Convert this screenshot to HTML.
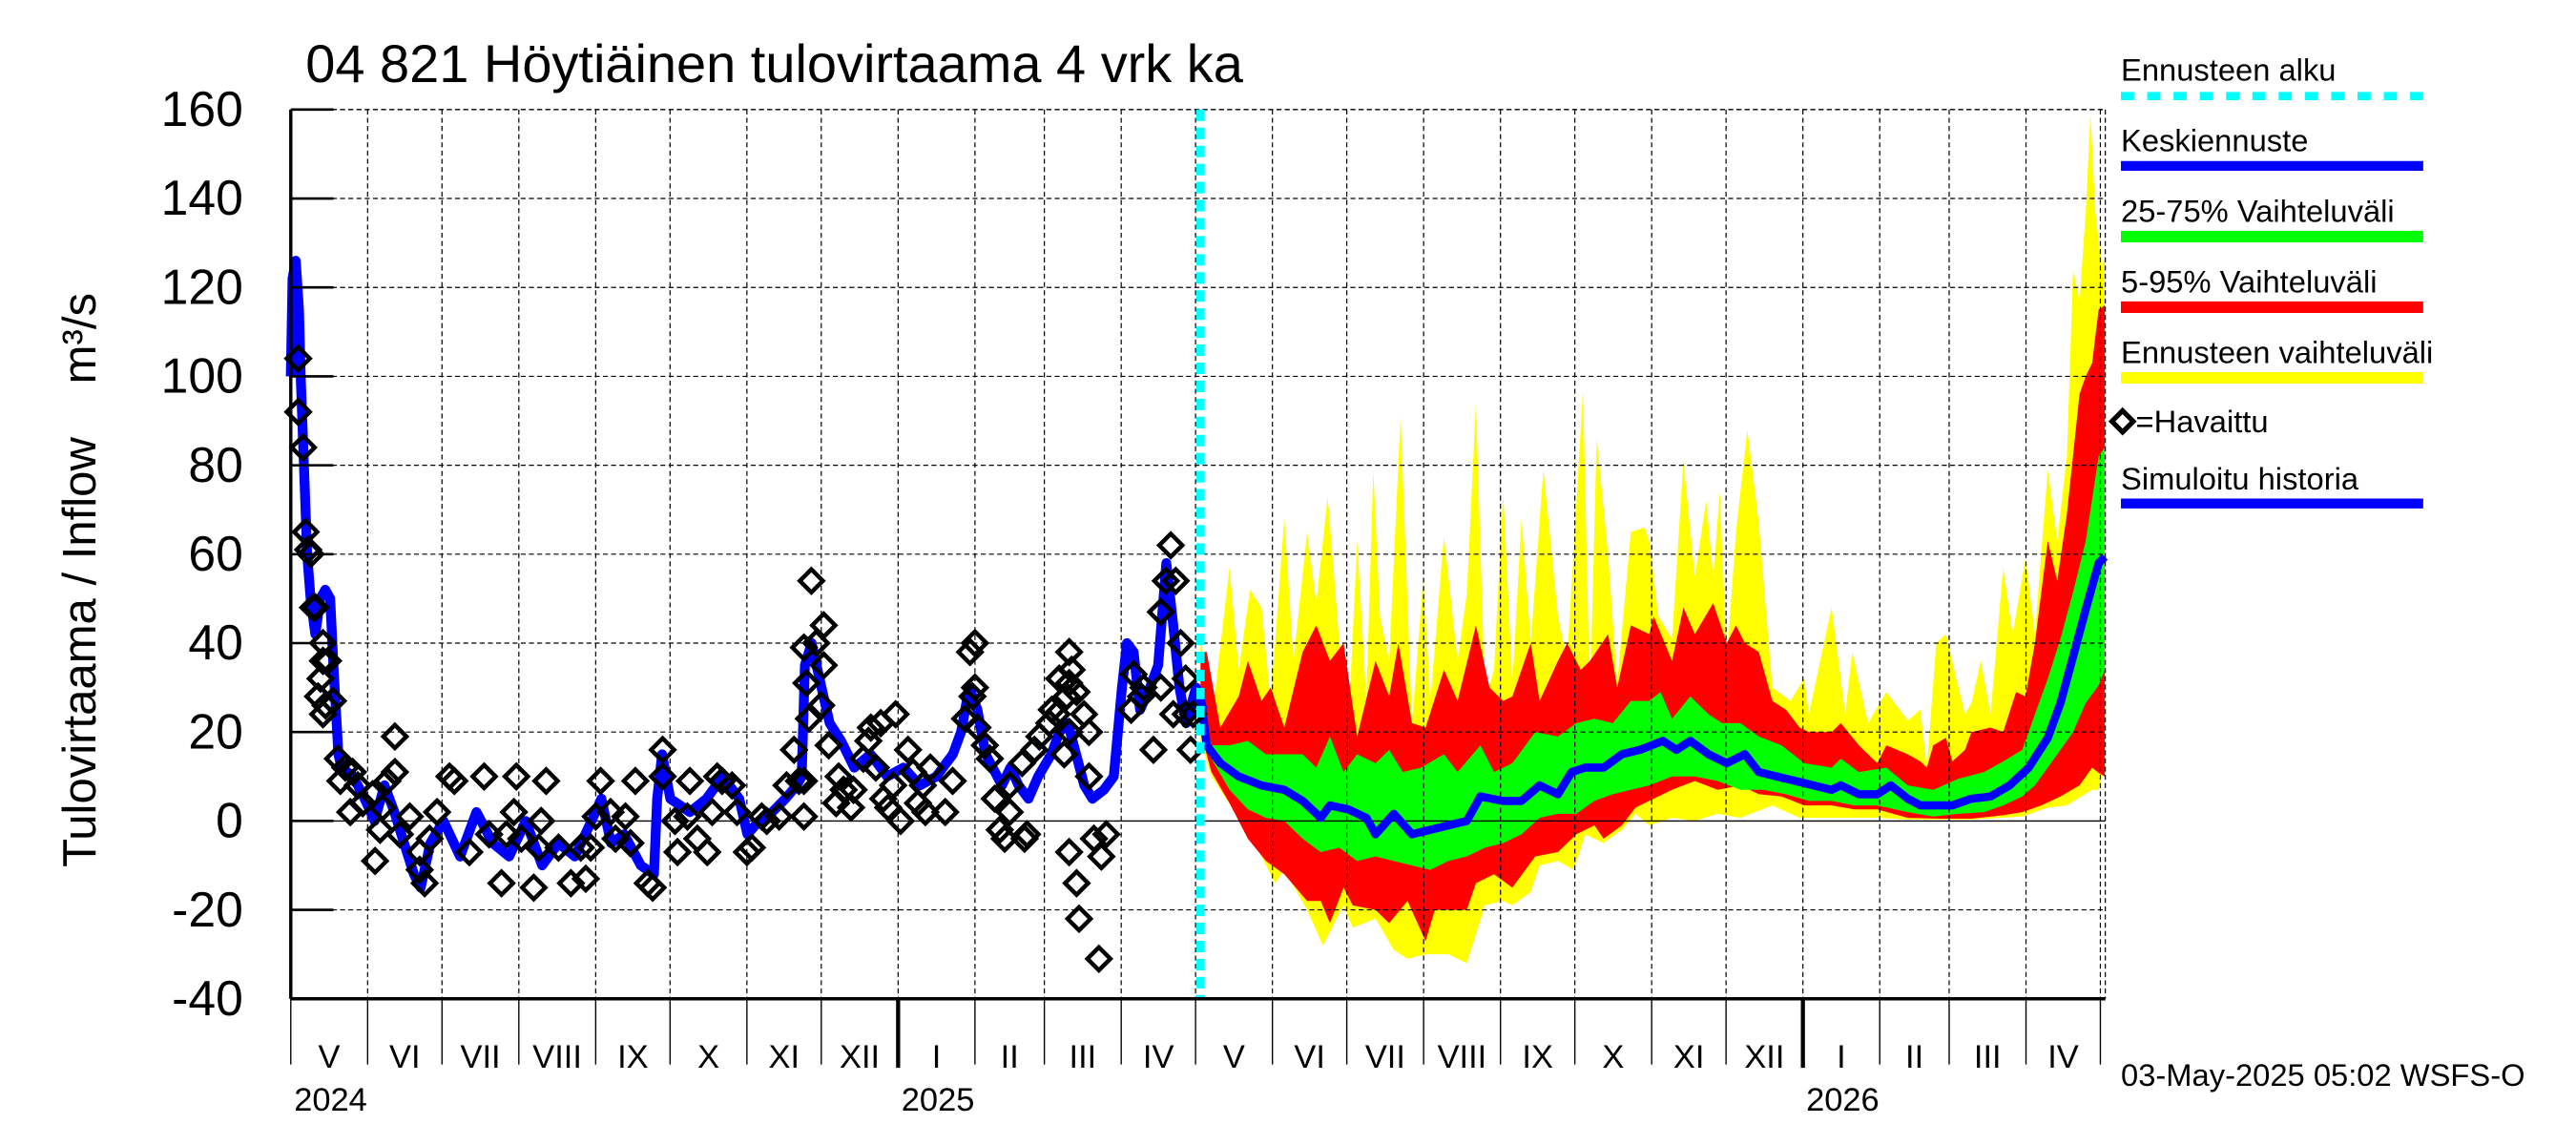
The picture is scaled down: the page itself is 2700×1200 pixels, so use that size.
<!DOCTYPE html>
<html><head><meta charset="utf-8"><style>
html,body{margin:0;padding:0;background:#fff;}
svg{display:block;font-family:"Liberation Sans",Arial,sans-serif;}
</style></head><body>
<svg id="chart" width="2700" height="1200" viewBox="0 0 1568 697" preserveAspectRatio="none" xmlns="http://www.w3.org/2000/svg">
<rect x="0" y="0" width="1568" height="697" fill="#fff"/>
<g id="bands"></g>
<g id="grid"></g>
<g id="series"></g>
<g id="axes"></g>
<text x="186" y="50" font-size="32.5">04 821 Höytiäinen tulovirtaama 4 vrk ka</text>
<text transform="translate(58,397) rotate(-90)" text-anchor="middle" font-size="28.5">Tulovirtaama / Inflow</text>
<text transform="translate(58,206) rotate(-90)" text-anchor="middle" font-size="28.5">m³/s</text>
<g font-size="19">
<text x="1291" y="49">Ennusteen alku</text>
<line x1="1291" y1="58.5" x2="1475" y2="58.5" stroke="#00ffff" stroke-width="5" stroke-dasharray="8,8"/>
<text x="1291" y="92">Keskiennuste</text>
<line x1="1291" y1="101" x2="1475" y2="101" stroke="#0000ff" stroke-width="6"/>
<text x="1291" y="135">25-75% Vaihteluväli</text>
<line x1="1291" y1="144" x2="1475" y2="144" stroke="#00ff00" stroke-width="7"/>
<text x="1291" y="178">5-95% Vaihteluväli</text>
<line x1="1291" y1="187" x2="1475" y2="187" stroke="#ff0000" stroke-width="7"/>
<text x="1291" y="221">Ennusteen vaihteluväli</text>
<line x1="1291" y1="230" x2="1475" y2="230" stroke="#ffff00" stroke-width="7"/>
<path d="M1292,250 L1298.5,256.5 L1292,263 L1285.5,256.5 Z" fill="none" stroke="#000" stroke-width="3"/>
<text x="1300" y="263">=Havaittu</text>
<text x="1291" y="298">Simuloitu historia</text>
<line x1="1291" y1="306.5" x2="1475" y2="306.5" stroke="#0000ff" stroke-width="6"/>
</g>
<text x="1291" y="661" font-size="19">03-May-2025 05:02 WSFS-O</text>
</svg>
<script>
// ---- data ----
const yTicks = [-40,-20,0,20,40,60,80,100,120,140,160];
const monthNames = ["I","II","III","IV","V","VI","VII","VIII","IX","X","XI","XII"];
const forecastStartDay = 367;
const fcBaseDay = 364;
const simDays = [0,0.7,2,3.3,4,5.3,6.6,8,9.9,11.9,13.9,15.9,17.2,19.2,20.5,25.2,29.8,33.8,37.8,41.8,45.7,49.7,52.4,56.3,61.6,68.3,74.9,81.5,88.1,94.8,101.4,108,114.6,121.3,125.3,129.2,134.5,141.2,146.5,147.8,149.8,153.1,161,167.7,174.3,180.9,184.2,188.9,194.2,199.5,204.1,206.1,207.4,210.1,214.1,217.4,222,227.3,233.9,240.6,247.2,253.8,260.4,267.1,270.4,273.7,277,280.3,286.9,290.3,293.6,297.6,301.5,306.8,310.1,313.5,316.8,320.1,323.4,328,332,335.3,337.3,340,342.6,346.6,349.9,353.2,355.8,358.5,361.2,365.2,367.8];
const simValues = [100,122,126,115,100,80,60,50,42,50,52,50,35,15,12,10,5,0,8,2,-5,-12,-15,-5,0,-8,2,-5,-8,0,-10,-5,-8,0,5,-5,-3,-10,-12,5,15,5,2,5,10,5,-3,0,2,5,8,10,35,40,30,22,18,12,15,10,12,8,10,15,20,30,25,15,8,12,8,5,10,15,20,22,15,8,5,7,10,30,40,38,25,30,35,58,45,30,22,30,25];
const obsDays = [3,3,5,6,7,8,9,10,13,13,12,11,13,14,15,17,19,20,22,24,25,27,29,34,33,42,42,39,37,36,52,54,52,48,44,56,59,64,66,72,78,80,85,87,90,91,93,98,101,103,100,108,113,117,119,123,125,121,129,131,135,137,139,144,146,150,150,155,156,160,161,164,168,170,172,174,178,180,184,186,190,192,197,200,203,205,207,207,210,207,208,209,212,215,215,214,217,220,221,223,226,227,231,233,234,236,238,239,244,241,243,246,249,251,253,255,256,258,264,267,272,274,276,275,276,277,280,282,284,286,288,290,290,296,297,295,300,302,306,307,309,310,314,315,314,313,314,312,317,320,322,314,317,318,326,322,324,327,329,339,340,343,344,348,351,351,355,353,357,359,361,361,363,356,364];
const obsValues = [104,92,84,65,61,60,48,48,40,36,32,28,24,26,36,27,14,9,12,2,11,8,4,-9,6,19,11,9,3,-2,-11,-14,-7,1,-3,-4,2,10,9,-7,10,-3,-14,-3,2,10,-4,-15,0,9,-6,-6,-14,-6,-13,1,9,-6,2,-4,1,-5,9,-14,-15,10,16,0,-7,1,9,-4,-7,2,10,9,8,2,-7,-6,1,0,1,8,16,9,9,1,54,39,31,23,40,44,35,26,17,4,10,7,3,7,14,18,21,12,22,5,24,3,8,0,16,11,4,8,2,12,2,9,23,38,40,28,30,21,17,14,5,-2,-4,2,8,-4,-3,13,16,19,22,25,24,32,38,34,31,28,20,15,29,24,20,-7,-14,-22,-31,10,-4,-8,-3,25,33,28,30,16,30,47,62,54,54,40,32,24,16,24,24];
// forecast: offsets in days since fcBaseDay
const p95Off = [3,5.5,11,18.4,22.1,27.6,31.3,36.8,44.2,49.7,55.2,60.7,66.2,73.6,79.1,82.8,88.3,93.8,101.2,106.7,114.1,119.6,125.1,128.8,136.2,139.8,147.2,150.9,156.4,160.1,167.4,171.1,176.6,184,185.8,193.2,197.8,202.4,209.8,215.3,219,222.6,228.2,233.7,239.2,244.7,248.4,257.6,261.3,268.6,276,279.7,288.3,293.4,296,298.6,303.7,306.3,311.4,314,321.7,326.8,332,335.8,339.6,344.8,348.6,352.5,357.6,360.1,362.7,365.3,367.8];
const p95Val = [38,38,21,28,36,27,30,21,38,44,36,40,19,36,28,40,22,21,34,27,44,30,27,28,40,27,36,40,34,36,42,30,44,42,46,36,48,42,49,40,44,40,38,27,25,21,20,20,22,17,13,17,15,13.4,12,17,18.7,13.4,16,20,21,20,29,28,40,63,54,69,96,100,103,115,116];
const p5Off = [3,7.4,14.7,22.1,29.4,36.8,46,51.5,55.2,60.7,64.4,73.6,79.1,86.5,93.8,97.5,103,110.4,114.1,121.4,128.8,138,147.2,154.6,161.9,165.6,173,178.5,184,193.2,202.4,211.6,220.8,228.2,237.4,246.6,257.6,266.8,276,288.3,301.1,314,326.8,334.5,342.2,349.9,357.6,362.7,365.3,367.8];
const p5Val = [20,11,4,-4,-9,-12,-18,-18,-23,-15,-19,-20,-23,-18,-27,-20,-20,-20,-14,-12,-15,-8,-7,-3,-1,-4,-1,3,4.5,7,9,7,8,6,5.5,3.5,3.5,2.6,2.6,0.7,0.5,0.5,1.3,2,3.5,5.5,8,12,10.8,10];
const p75Off = [3,7.4,14.7,22.1,29.4,36.8,44.2,49.7,55.2,60.7,66.2,73.6,79.1,84.6,92,101.2,106.7,115.9,121.4,128.8,138,147.2,154.6,161.9,169.3,176.6,184,188.6,193.2,200.6,207.9,213.4,220.8,228.2,237.4,246.6,257.6,261.3,268.6,279.7,288.3,298.6,308.8,319.1,326.8,334.5,339.6,344.8,349.9,355,360.1,365.3,367.8];
const p75Val = [28,17,17,18,15,15,15,12,19,11,15,13,16,11,12,15,11,17,11,13,20,19,22,23,22,27,27,29,23,28,24,22,22,19,17,13,12,14,11,12,8,7,9.5,11,13.4,16,24,32,41,51.5,63,82,84];
const p25Off = [3,7.4,14.7,22.1,29.4,36.8,44.2,51.5,58.9,66.2,73.6,81,88.3,95.7,103,110.4,117.8,125.1,132.5,139.8,147.2,154.6,161.9,169.3,176.6,184,193.2,202.4,211.6,220.8,230,239.2,248.4,257.6,266.8,276,288.3,298.6,308.8,319.1,326.8,334.5,339.6,344.8,349.9,355,360.1,365.3,367.8];
const p25Val = [22,14,7,2.6,0.7,0,-4,-7,-6,-9,-8,-9,-10,-11,-9,-8,-6,-5,-3,0.7,1.6,1.6,4.5,6,7,8,10,10,9,7,7,6,4.5,4.5,3.5,3.5,2,1,1.6,2,3.5,5.5,8,12,16,20,26.5,30.5,34];
const medOff = [3,5.5,11,18.4,27.6,36.8,44.2,51.5,55.2,62.6,69.9,73.6,81,88.3,95.7,103,110.4,115.9,125.1,132.5,139.8,147.2,152.7,158.2,165.6,173,180.3,189.5,195,200.6,207.9,215.3,222.6,228.2,235.5,242.9,250.2,257.6,261.3,268.6,276,281.5,288.3,293.4,298.6,306.3,314,321.7,329.4,337.1,344.8,349.9,355,360.1,365.3,367.8];
const medVal = [28,17,13,10,8,7,4.5,0.7,3.5,2.6,0.7,-3,1.6,-3,-2,-1,0,5.5,4.5,4.5,8,6,11,12,12,15,16,18,16,18,15,13,15,11,10,9,8,7,8,6,6,8,5,3.5,3.5,3.5,5,5.5,8,12,18.7,26.5,37,47.6,58,59.4];
const maxOff = [3,7.4,14.7,18.4,23,27.6,31.3,36.8,40.5,46,49.7,54.3,58.9,62.6,66.2,69.9,72.7,75.4,79.1,83.7,88.3,92.9,95.7,101.2,106.7,110.4,114.1,117.8,121.4,125.1,128.8,132.5,136.2,141.3,147.2,150.9,157.3,160.1,162.8,167.4,171.1,176.6,182.2,184,187.7,193.2,197.8,202.4,207,209.8,212.5,215.3,219,223.6,228.2,233.7,241,246.6,248.4,257.6,263.1,265.9,272.3,279.7,288.3,293.4,296,299.8,303.7,307.5,311.4,314,317.8,321.7,326.8,330.6,335.8,339.6,344.8,348.6,352.5,355,357.6,360.1,362,364,366.6,367.8];
const maxVal = [42,22,57,34,52,48,27,68,36,65,49,73,41,21,63,27,79,46,36,91,22,55,27,64,36,51,94,27,34,74,31,68,40,79,46,36,97,27,86,60,31,65,66,63,46,41,81,55,72,55,74,36,65,88,67,30,27,32,24,48,24,38,22,29,22.6,25,12,40,42,33,24,26.5,36,24,57,42,59,42,79,63,82,124,117,137,159,137,124,128];
const minOff = [3,7.4,18.4,25.8,33.1,36.8,46,52.4,60.7,64.4,73.6,81,86.5,93.8,103,110.4,117.8,125.1,128.8,136.2,139.8,147.2,153.6,158.2,165.6,173,178.5,184,193.2,202.4,211.6,220.8,233.7,244.7,257.6,276,288.3,314,334.5,344.8,352.5,362.7,365.3,366.6,367.8];
const minVal = [18,10,0.7,-6,-14,-11,-20,-28,-19,-24,-22,-29,-31,-30,-30,-32,-19,-18,-19,-16,-10,-9,-11,-3,-5,-2,1.6,-1,0.7,0,1.6,0.7,3.5,0.7,0.7,0.7,0.3,0.3,1,3,3.5,7,7,10.8,9.5];

// ---- axes ----
const X0=177, X1=1281.5, D0=0, D1=732, Y0=608, Y1=66.7, V0=-40, V1=160;
const xs = d => X0 + (d-D0)*(X1-X0)/(D1-D0);
const ys = v => Y0 - (v-V0)*(Y0-Y1)/(V1-V0);
const NS="http://www.w3.org/2000/svg";
function mk(tag, attrs, parent){const e=document.createElementNS(NS,tag);for(const k in attrs)e.setAttribute(k,attrs[k]);parent.appendChild(e);return e;}
const bands=document.getElementById('bands'), grid=document.getElementById('grid'), series=document.getElementById('series'), axes=document.getElementById('axes');

function band(upD, upV, loD, loV, color, name){
  const pts=[];
  const nu=Math.min(upD.length,upV.length), nl=Math.min(loD.length,loV.length);
  for(let i=0;i<nu;i++) pts.push(xs(fcBaseDay+upD[i]).toFixed(2)+','+ys(upV[i]).toFixed(2));
  for(let i=nl-1;i>=0;i--) pts.push(xs(fcBaseDay+loD[i]).toFixed(2)+','+ys(loV[i]).toFixed(2));
  const p=mk('polygon',{points:pts.join(' '),fill:color},bands);
  
  
}
band(maxOff,maxVal,minOff,minVal,'#ffff00','band-min-max');
band(p95Off,p95Val,p5Off,p5Val,'#ff0000','band-5-95');
band(p75Off,p75Val,p25Off,p25Val,'#00ff00','band-25-75');

// grid horizontal
yTicks.forEach(v=>{
  if(v!==V0){
    const l=mk('line',{x1:X0,x2:X1,y1:ys(v),y2:ys(v),stroke:'#000','stroke-width':v===0?0.8:0.7,'stroke-dasharray':v===0?'none':'3,2'},grid);
    
    
    const t=mk('line',{x1:X0,x2:X0+26,y1:ys(v),y2:ys(v),stroke:'#000','stroke-width':1.5},axes);
    
    
  }
  const lab=mk('text',{x:148,y:ys(v)+10,'text-anchor':'end','font-size':30},axes);
  
  
  lab.textContent=v;
});

// months
const base=Date.UTC(2024,4,1);
const dayOf=(y,m)=>(Date.UTC(y,m,1)-base)/86400000;
for(let k=0;k<=24;k++){
  const y=2024+Math.floor((4+k)/12), m=(4+k)%12;
  const d=dayOf(y,m), x=xs(d);
  if(k>0){
    const g=mk('line',{x1:x,x2:x,y1:Y1,y2:Y0,stroke:'#000','stroke-width':0.7,'stroke-dasharray':'3,2'},grid);
    
    
  }
  const isYear=m===0;
  const t=mk('line',{x1:x,x2:x,y1:Y0,y2:isYear?650:648,stroke:'#000','stroke-width':isYear?2.5:0.8},axes);
  
  
  if(k<24){
    const dn=dayOf(2024+Math.floor((5+k)/12),(5+k)%12);
    const lab=mk('text',{x:(xs(d)+xs(dn))/2,y:650,'text-anchor':'middle','font-size':20},axes);
    
    
    lab.textContent=monthNames[m];
  }
  if(k===0||isYear){
    const yl=mk('text',{x:x+2,y:676,'font-size':20},axes);
    
    
    yl.textContent=y;
  }
}
mk('line',{x1:X1,x2:X1,y1:Y1,y2:Y0,stroke:'#000','stroke-width':0.7,'stroke-dasharray':'3,2'},grid);
mk('line',{x1:X0,x2:X1,y1:Y1,y2:Y1,stroke:'#000','stroke-width':0.7,'stroke-dasharray':'3,2'},grid);

// lines
function line(ds,vs,off,name,w){
  const n=Math.min(ds.length,vs.length);
  const pts=[];
  for(let i=0;i<n;i++) pts.push(xs(off+ds[i]).toFixed(2)+','+ys(vs[i]).toFixed(2));
  const p=mk('polyline',{points:pts.join(' '),fill:'none',stroke:'#0000ff','stroke-width':w,'stroke-linejoin':'round'},series);
  
  
}
line(simDays,simValues,0,'simulated-history',6);
line(medOff,medVal,fcBaseDay,'forecast-median',5);

// observed
obsDays.forEach((d,i)=>{
  const x=xs(d), y=ys(obsValues[i]);
  const p=mk('path',{d:`M${x},${y-7} L${x+7},${y} L${x},${y+7} L${x-7},${y} Z`,fill:'none',stroke:'#000','stroke-width':2.6},series);
  
  
});

{const c=mk('line',{x1:xs(forecastStartDay),x2:xs(forecastStartDay),y1:Y1,y2:Y0,stroke:'#00ffff','stroke-width':5,'stroke-dasharray':'7,4'},series);

}

mk('line',{x1:X0,x2:X0,y1:Y1,y2:Y0,stroke:'#000','stroke-width':2},axes);
mk('line',{x1:X0,x2:X1,y1:Y0,y2:Y0,stroke:'#000','stroke-width':2},axes);
</script>
</body></html>
